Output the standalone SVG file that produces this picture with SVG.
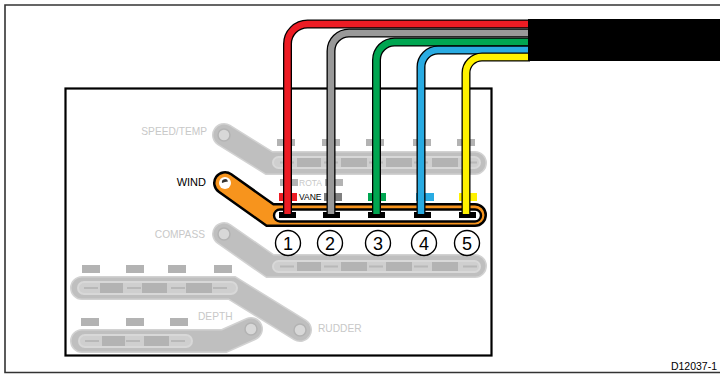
<svg xmlns="http://www.w3.org/2000/svg" width="720" height="374" viewBox="0 0 720 374">
<style>
text{font-family:"Liberation Sans",Arial,sans-serif}
.lbl{font-size:10.2px;fill:#c8c8c8}
.lbk{fill:#000}
.sm{font-size:8.5px}
.o{fill:none;stroke:#d2d2d2;stroke-width:24;stroke-linecap:round;stroke-linejoin:miter}
.i{fill:none;stroke:#bfbfbf;stroke-width:21;stroke-linecap:round;stroke-linejoin:miter}
.slot{fill:#cfcfcf;stroke:#d8d8d8;stroke-width:2}
.d{fill:#b3b3b3}
.t{fill:#b3b3b3}
.ds{stroke:#b8b8b8;stroke-width:2;fill:none}
.w{fill:none;stroke:#000;stroke-width:9;stroke-linejoin:round}
.c{fill:none;stroke-width:6.4;stroke-linejoin:round}
.n{fill:#fff;stroke:#000;stroke-width:1.400}
.nt{font-size:18px;text-anchor:middle;fill:#000}
.term{fill:#000}
.hub{fill:#d8d8d8;stroke:#b3b3b3;stroke-width:1.500}
</style>
<path d="M720,5H5V372.500H720" fill="#fff" stroke="#333" stroke-width="1.600"/>
<rect x="65.500" y="88.500" width="426" height="267" fill="#fff" stroke="#000" stroke-width="2.200"/>

<g id="speed-temp">
<path class="o" d="M224,135L269,163H475"/><path class="i" d="M224,135L269,163H475"/>
<rect class="slot" x="273" y="157" width="207" height="11" rx="5.500"/>
<circle class="hub" cx="224" cy="135" r="6"/>
<path class="d" d="M297,158h24v9h-24zM341,158h26v9h-26zM386,158h26v9h-26zM432,158h26v9h-26z"/>
<path class="ds" d="M280,162.500h14M324,162.500h14M369,162.500h14M414,162.500h14M463,162.500h14"/>
<path class="t" d="M277,139h18v7h-18zM322,139h18v7h-18zM366,139h18v7h-18zM413,139h18v7h-18zM457,139h18v7h-18z"/>
<text class="lbl" x="207" y="135" text-anchor="end">SPEED/TEMP</text>
</g>

<g id="compass">
<path class="o" d="M224,234L270,266H475"/><path class="i" d="M224,234L270,266H475"/>
<rect class="slot" x="273" y="261" width="207" height="11" rx="5.500"/>
<circle class="hub" cx="224" cy="234" r="6"/>
<path class="d" d="M297,262h24v9h-24zM341,262h26v9h-26zM386,262h26v9h-26zM432,262h26v9h-26z"/>
<path class="ds" d="M280,266.500h14M324,266.500h14M369,266.500h14M414,266.500h14M463,266.500h14"/>
<text class="lbl" x="205" y="238" text-anchor="end">COMPASS</text>
</g>

<g id="rudder">
<path class="o" d="M82,288H232L300,330"/><path class="i" d="M82,288H232L300,330"/>
<rect class="slot" x="78" y="282" width="159" height="12" rx="6"/>
<circle class="hub" cx="300" cy="330" r="6"/>
<path class="d" d="M100,283h23v10h-23zM142,283h25v10h-25zM186,283h26v10h-26z"/>
<path class="ds" d="M84,288h14M127,288h14M171,288h14M213,288h14"/>
<path class="t" d="M82,265h18v8h-18zM126,265h18v8h-18zM168,265h18v8h-18zM214,265h18v8h-18z"/>
<text class="lbl" x="318" y="332">RUDDER</text>
</g>

<g id="depth">
<path class="o" d="M82,341H224L251,329"/><path class="i" d="M82,341H224L251,329"/>
<rect class="slot" x="79" y="335" width="113" height="12" rx="6"/>
<circle class="hub" cx="251" cy="329" r="6"/>
<path class="d" d="M102,336h23v10h-23zM144,336h25v10h-25z"/>
<path class="ds" d="M85,341h14M126,341h14M171,341h14"/>
<path class="t" d="M81,318h18v8h-18zM126,318h18v8h-18zM170,318h18v8h-18z"/>
<text class="lbl" x="198" y="320">DEPTH</text>
</g>

<g id="wind">
<path d="M225,183L270,215H475" fill="none" stroke="#000" stroke-width="24" stroke-linecap="round"/>
<path d="M225,183L270,215H475" fill="none" stroke="#f7941d" stroke-width="19" stroke-linecap="round"/>
<rect x="274" y="209.500" width="207" height="12" rx="6" fill="#fff" stroke="#000" stroke-width="2.400"/>
<circle cx="225" cy="183" r="6" fill="#fff"/>
<path d="M222,183a3,3 0 0 1 6,-1.500l-3,0.500z" fill="#333"/>
<text class="lbk" x="206" y="186" text-anchor="end" font-size="11">WIND</text>
</g>

<g id="rota-vane">
<path class="t" d="M280,179h18v7h-18zM325,179h18v7h-18z"/>
<text class="lbl sm" x="299" y="186">ROTA</text>
<rect x="279" y="193" width="18" height="8" fill="#ed1c24"/>
<rect x="324" y="193" width="18" height="8" fill="#808080"/>
<rect x="368" y="193" width="18" height="8" fill="#00a651"/>
<rect x="416" y="193" width="18" height="8" fill="#29abe2"/>
<rect x="459" y="193" width="18" height="8" fill="#fff200"/>
<text class="lbk sm" x="299" y="200">VANE</text>
</g>

<g id="terminals">
<path class="term" d="M279,212h17v6h-17zM323,212h17v6h-17zM368,212h17v6h-17zM414,212h17v6h-17zM459,212h17v6h-17z"/>
</g>

<g id="connectors">
<path class="w" d="M287.500,215V44a20,20 0 0 1 20,-20H530"/>
<path class="c" stroke="#ed1c24" d="M287.500,214V44a20,20 0 0 1 20,-20H530"/>
<path class="w" d="M331,215V51a18,18 0 0 1 18,-18H530"/>
<path class="c" stroke="#999" d="M331,214V51a18,18 0 0 1 18,-18H530"/>
<path class="w" d="M376.500,215V60a18,18 0 0 1 18,-18H530"/>
<path class="c" stroke="#00a651" d="M376.500,214V60a18,18 0 0 1 18,-18H530"/>
<path class="w" d="M421,215V67a17,17 0 0 1 17,-17H530"/>
<path class="c" stroke="#29abe2" d="M421,214V67a17,17 0 0 1 17,-17H530"/>
<path class="w" d="M466,215V73a16,16 0 0 1 16,-16H530"/>
<path class="c" stroke="#fff200" d="M466,214V73a16,16 0 0 1 16,-16H530"/>
</g>

<rect id="cable" x="528" y="19" width="192" height="42" fill="#000"/>

<g id="n1"><circle class="n" cx="288" cy="243" r="12.500"/><text class="nt" x="288" y="249.500">1</text></g>
<g id="n2"><circle class="n" cx="330" cy="243" r="12.500"/><text class="nt" x="330" y="249.500">2</text></g>
<g id="n3"><circle class="n" cx="378" cy="243" r="12.500"/><text class="nt" x="378" y="249.500">3</text></g>
<g id="n4"><circle class="n" cx="424" cy="243" r="12.500"/><text class="nt" x="424" y="249.500">4</text></g>
<g id="n5"><circle class="n" cx="467" cy="243" r="12.500"/><text class="nt" x="467" y="249.500">5</text></g>

<text x="717" y="370" text-anchor="end" font-size="10.500" fill="#000">D12037-1</text>
</svg>
